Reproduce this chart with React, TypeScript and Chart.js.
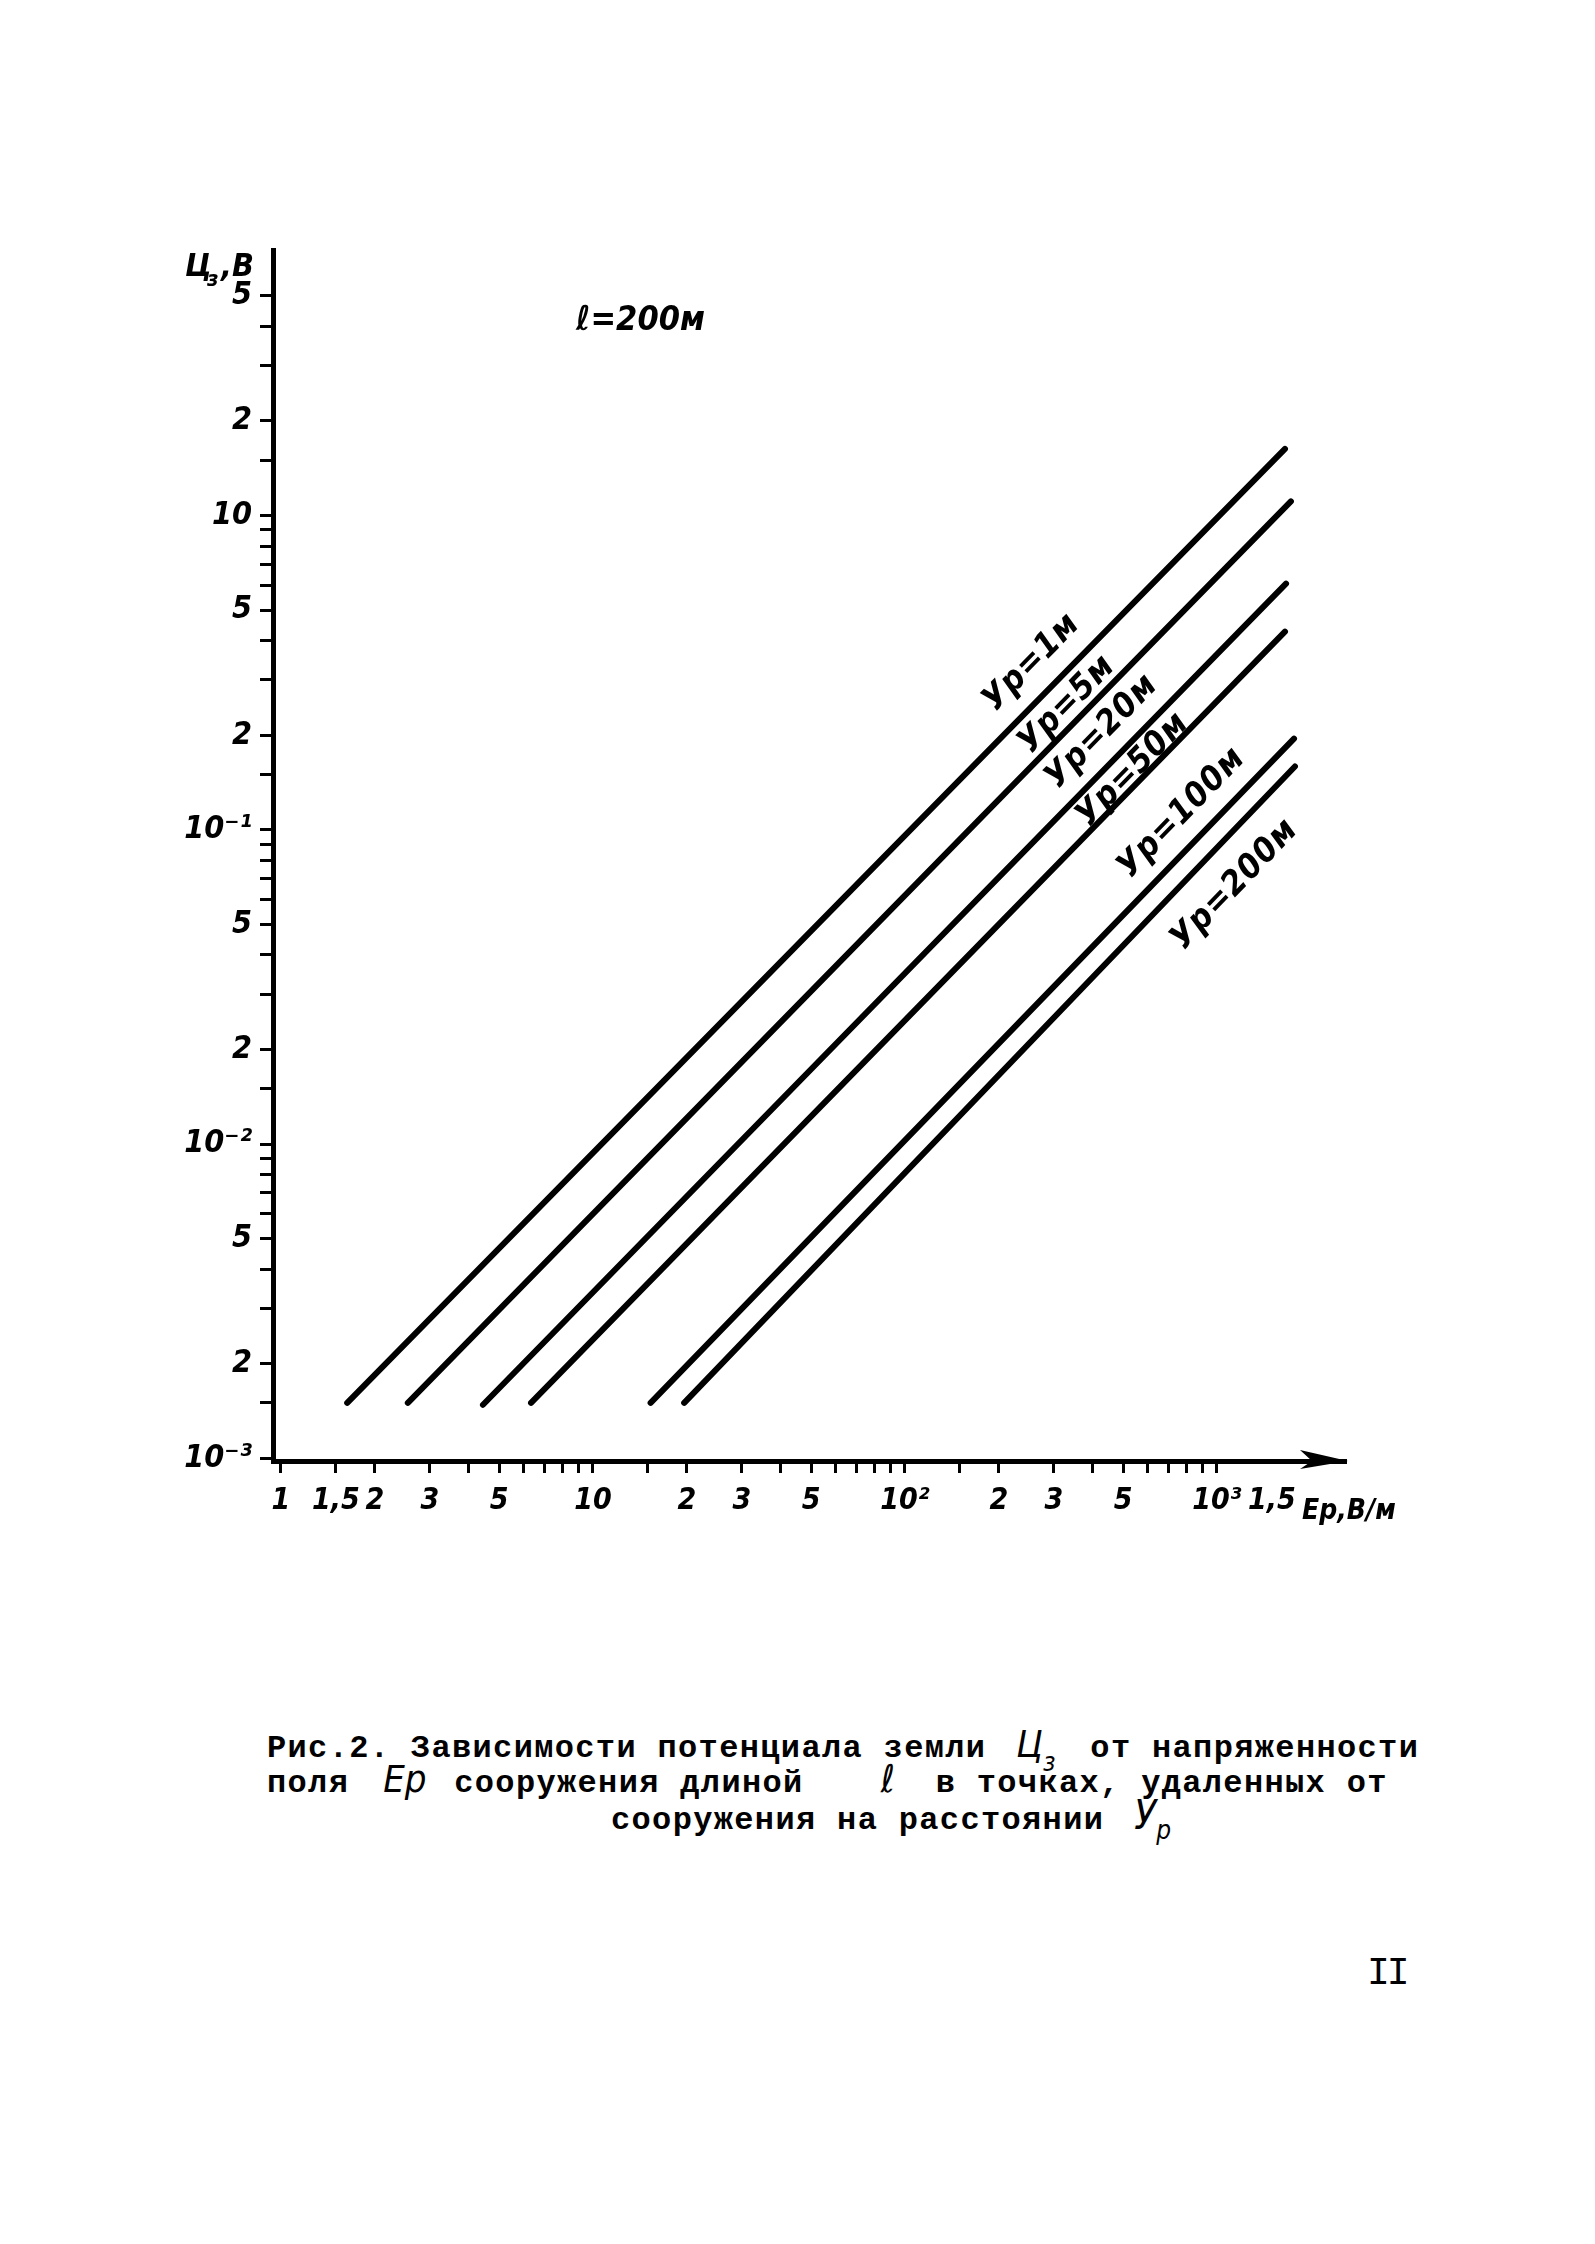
import React, { useEffect, useRef } from "react";
import { Chart, registerables } from "chart.js";

Chart.register(...registerables);

// ---- data ----
const seriesNames = ["Ур=1м", "Ур=5м", "Ур=20м", "Ур=50м", "Ур=100м", "Ур=200м"];
const startE = [1.63, 2.55, 4.44, 6.33, 15.3, 19.6];
const startU = [0.0015, 0.0015, 0.00148, 0.0015, 0.0015, 0.0015];
const endE = [1652, 1726, 1665, 1652, 1766, 1778];
const endU = [1.63, 1.11, 0.607, 0.427, 0.195, 0.159];
const labelE = [255, 331, 428, 538, 772, 1142];
const labelU = [0.34, 0.25, 0.205, 0.155, 0.113, 0.0668];

const xTickValues = [
  1, 1.5, 2, 3, 4, 5, 6, 7, 8, 9,
  10, 15, 20, 30, 40, 50, 60, 70, 80, 90,
  100, 150, 200, 300, 400, 500, 600, 700, 800, 900,
  1000, 1500,
];
const xTickLabels = [
  "1", "1,5", "2", "3", "", "5", "", "", "", "",
  "10", "", "2", "3", "", "5", "", "", "", "",
  "10²", "", "2", "3", "", "5", "", "", "", "",
  "10³", "1,5",
];
const yTickValues = [
  0.001, 0.0015, 0.002, 0.003, 0.004, 0.005, 0.006, 0.007, 0.008, 0.009,
  0.01, 0.015, 0.02, 0.03, 0.04, 0.05, 0.06, 0.07, 0.08, 0.09,
  0.1, 0.15, 0.2, 0.3, 0.4, 0.5, 0.6, 0.7, 0.8, 0.9,
  1, 1.5, 2, 3, 4, 5,
];
const yTickLabels = [
  "10⁻³", "", "2", "", "", "5", "", "", "", "",
  "10⁻²", "", "2", "", "", "5", "", "", "", "",
  "10⁻¹", "", "2", "", "", "5", "", "", "", "",
  "10", "", "2", "", "", "5",
];
const xMin = 0.9427;
const xMax = 2592;
const yMin = 0.00098;
const yMax = 7;
const noteE = 14.2;
const noteU = 4.15;

const HAND = '"DejaVu Sans Condensed", "DejaVu Sans", sans-serif';

const decor = {
  id: "decor",
  afterDraw(chart: any) {
    const { ctx, chartArea, scales } = chart;
    const xs = scales.x;
    const ys = scales.y;
    ctx.save();
    ctx.fillStyle = "#000";
    ctx.strokeStyle = "#000";
    // curve labels
    ctx.font = `italic bold 34px ${HAND}`;
    ctx.textAlign = "center";
    ctx.textBaseline = "middle";
    try { (ctx as any).letterSpacing = "1px"; } catch (e) {}
    seriesNames.forEach((name, i) => {
      const x1 = xs.getPixelForValue(startE[i]);
      const y1 = ys.getPixelForValue(startU[i]);
      const x2 = xs.getPixelForValue(endE[i]);
      const y2 = ys.getPixelForValue(endU[i]);
      const ang = Math.atan2(y2 - y1, x2 - x1);
      ctx.save();
      ctx.translate(xs.getPixelForValue(labelE[i]), ys.getPixelForValue(labelU[i]));
      ctx.rotate(ang);
      ctx.fillText(name, 0, 0);
      ctx.restore();
    });
    try { (ctx as any).letterSpacing = "0px"; } catch (e) {}
    // ℓ = 200 м note
    ctx.font = `italic bold 34px ${HAND}`;
    ctx.fillText("ℓ=200м", xs.getPixelForValue(noteE), ys.getPixelForValue(noteU));
    // arrow at x-axis end
    const tx = chartArea.right;
    const ty = chartArea.bottom;
    ctx.beginPath();
    ctx.moveTo(tx + 2, ty);
    ctx.lineTo(tx - 46, ty - 11);
    ctx.lineTo(tx - 34, ty);
    ctx.lineTo(tx - 46, ty + 8);
    ctx.closePath();
    ctx.fill();
    // y-axis title  Ц з,В
    ctx.textAlign = "left";
    ctx.textBaseline = "alphabetic";
    ctx.font = `italic bold 32px ${HAND}`;
    ctx.fillText("Ц", chartArea.left - 88, chartArea.top + 26);
    ctx.font = `italic bold 22px ${HAND}`;
    ctx.fillText("з", chartArea.left - 66, chartArea.top + 36);
    ctx.font = `italic bold 32px ${HAND}`;
    ctx.fillText(",В", chartArea.left - 52, chartArea.top + 26);
    // x-axis title
    ctx.font = `italic bold 28px ${HAND}`;
    ctx.fillText("Ер,В/м", chartArea.right - 44, chartArea.bottom + 58);
    ctx.restore();
  },
};

const xTickFont = { family: HAND, size: 30, weight: "bold" as const, style: "italic" as const };
const yTickFont = { family: HAND, size: 32, weight: "bold" as const, style: "italic" as const };

export default function App() {
  const ref = useRef<HTMLCanvasElement>(null);
  useEffect(() => {
    if (!ref.current) return;
    const datasets = seriesNames.map((name, i) => ({
      label: name,
      data: [
        { x: startE[i], y: startU[i] },
        { x: endE[i], y: endU[i] },
      ],
      borderColor: "#000",
      backgroundColor: "#000",
      borderWidth: 6,
      borderCapStyle: "round" as const,
      pointRadius: 0,
      fill: false,
      tension: 0,
    }));
    const chart = new Chart(ref.current, {
      type: "line",
      data: { datasets },
      plugins: [decor],
      options: {
        animation: false,
        responsive: false,
        devicePixelRatio: 1,
        layout: { padding: { left: 0, top: 50, right: 74, bottom: 0 } },
        plugins: { legend: { display: false }, tooltip: { enabled: false }, title: { display: false } },
        scales: {
          x: {
            type: "logarithmic",
            min: xMin,
            max: xMax,
            afterBuildTicks: (axis: any) => {
              axis.ticks = xTickValues.map((v) => ({ value: v }));
            },
            afterFit: (axis: any) => {
              axis.height = 119;
            },
            border: { display: true, color: "#000", width: 5 },
            grid: {
              display: true,
              drawOnChartArea: false,
              drawTicks: true,
              tickLength: 12,
              tickWidth: 3,
              tickColor: (c: any) => (c.tick && c.tick.value === 1500 ? "rgba(0,0,0,0)" : "#000"),
            },
            ticks: {
              autoSkip: false,
              maxRotation: 0,
              minRotation: 0,
              padding: 10,
              color: "#000",
              font: xTickFont,
              callback: (_v: any, i: number) => xTickLabels[i],
            },
          },
          y: {
            type: "logarithmic",
            min: yMin,
            max: yMax,
            afterBuildTicks: (axis: any) => {
              axis.ticks = yTickValues.map((v) => ({ value: v }));
            },
            afterFit: (axis: any) => {
              axis.width = 153;
            },
            border: { display: true, color: "#000", width: 5 },
            grid: {
              display: true,
              drawOnChartArea: false,
              drawTicks: true,
              tickLength: 13,
              tickWidth: 3,
              tickColor: "#000",
            },
            ticks: {
              autoSkip: false,
              padding: 8,
              color: "#000",
              font: yTickFont,
              callback: (_v: any, i: number) => yTickLabels[i],
            },
          },
        },
      },
    } as any);
    return () => chart.destroy();
  }, []);

  const TYPE: React.CSSProperties = {
    position: "absolute",
    fontFamily: '"Liberation Mono", "DejaVu Sans Mono", monospace',
    fontWeight: "bold",
    fontSize: 32,
    letterSpacing: "1.35px",
    lineHeight: "36px",
    whiteSpace: "pre",
    color: "#000",
  };
  const HANDSPAN: React.CSSProperties = {
    display: "inline-block",
    fontFamily: HAND,
    fontStyle: "italic",
    fontWeight: "normal",
    fontSize: 38,
    letterSpacing: 0,
    boxSizing: "border-box",
    textAlign: "left",
  };

  return (
    <div style={{ position: "relative", width: 1579, height: 2228, background: "#fff" }}>
      <canvas
        ref={ref}
        width={1300}
        height={1380}
        style={{ position: "absolute", left: 112, top: 192, width: 1300, height: 1380 }}
      />
      <div style={{ ...TYPE, left: 259, top: 1718 }}>
        Рис.2. Зависимости потенциала земли
        <span style={{ ...HANDSPAN, width: 104, paddingLeft: 30 }}>
          Ц<span style={{ fontSize: 26, position: "relative", top: 14 }}>з</span>
        </span>
        от напряженности
      </div>
      <div style={{ ...TYPE, left: 259, top: 1753 }}>
        поля
        <span style={{ ...HANDSPAN, width: 105, paddingLeft: 34 }}>Ер</span>
        сооружения длиной
        <span style={{ ...HANDSPAN, width: 132, paddingLeft: 77 }}>ℓ</span>
        в точках, удаленных от
      </div>
      <div style={{ ...TYPE, left: 603, top: 1789 }}>
        сооружения на расстоянии
        <span style={{ ...HANDSPAN, paddingLeft: 30, fontSize: 40 }}>
          У<span style={{ fontSize: 26, position: "relative", top: 10 }}>р</span>
        </span>
      </div>
      <div style={{ ...TYPE, fontWeight: "normal", fontSize: 38, letterSpacing: "-3px", left: 1359, top: 1948 }}>
        II
      </div>
    </div>
  );
}
